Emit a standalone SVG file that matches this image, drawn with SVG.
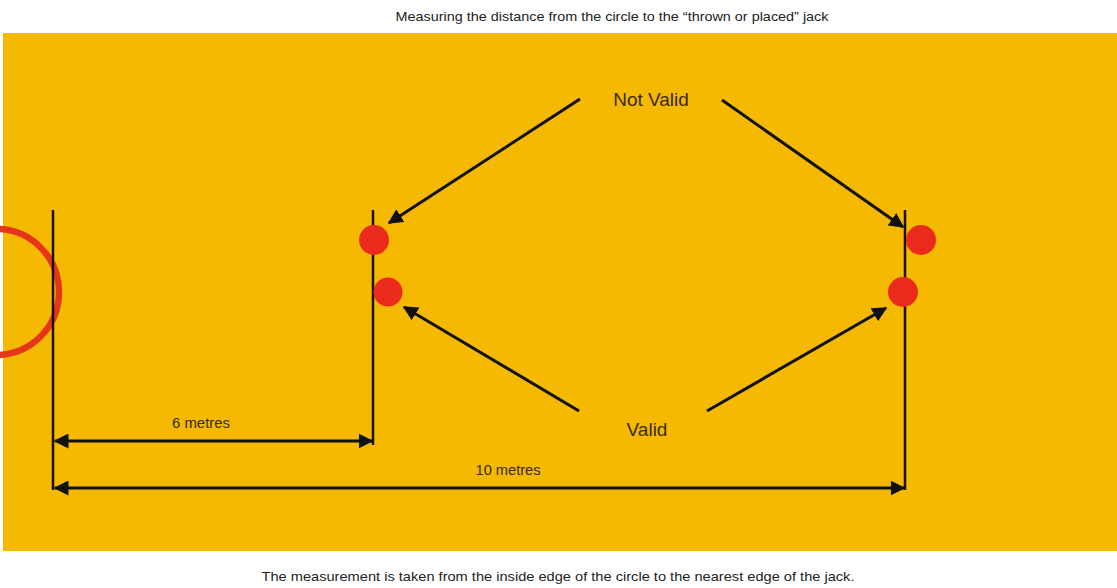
<svg xmlns="http://www.w3.org/2000/svg" width="1117" height="588" viewBox="0 0 1117 588">
<style>
.lbl{font-family:"Liberation Sans",Arial,sans-serif;fill:#3a2a0c;text-anchor:middle}
.cap{font-family:"Liberation Sans",Arial,sans-serif;fill:#222;font-size:13.5px;text-anchor:middle}
.post{stroke:#1a1208;stroke-width:2.5;fill:none}
.arr{stroke:#111;stroke-width:3;fill:none;marker-end:url(#ah)}
.dim{stroke:#111;stroke-width:3;fill:none;marker-start:url(#ahs);marker-end:url(#ah)}
.jack{fill:#EA2A1B}
</style>
<defs>
<marker id="ah" viewBox="0 0 10 10" refX="9" refY="5" markerWidth="5" markerHeight="5" orient="auto" markerUnits="strokeWidth">
<path d="M0,0 L10,5 L0,10 z" fill="#111"/>
</marker>
<marker id="ahs" viewBox="0 0 10 10" refX="1" refY="5" markerWidth="5" markerHeight="5" orient="auto" markerUnits="strokeWidth">
<path d="M10,0 L0,5 L10,10 z" fill="#111"/>
</marker>
</defs>
<rect x="0" y="0" width="1117" height="588" fill="#ffffff"/>
<rect x="3" y="33" width="1114" height="518" fill="#F5B902"/>
<text class="cap" x="612" y="21" textLength="433" lengthAdjust="spacingAndGlyphs">Measuring the distance from the circle to the “thrown or placed” jack</text>
<text class="cap" x="558" y="581" textLength="593" lengthAdjust="spacingAndGlyphs">The measurement is taken from the inside edge of the circle to the nearest edge of the jack.</text>
<g id="circle">
<circle cx="-4" cy="292" r="63" fill="none" stroke="#E5361C" stroke-width="6.5"/>
</g>
<g id="line-start"><line class="post" x1="53" y1="210" x2="53" y2="490"/></g>
<g id="line-6m"><line class="post" x1="373" y1="210" x2="373" y2="445"/></g>
<g id="line-10m"><line class="post" x1="905" y1="210" x2="905" y2="490"/></g>
<g id="jack-6m-notvalid"><circle class="jack" cx="374" cy="240" r="15"/></g>
<g id="jack-6m-valid"><circle class="jack" cx="388" cy="292" r="14.5"/></g>
<g id="jack-10m-notvalid"><circle class="jack" cx="921" cy="240" r="15"/></g>
<g id="jack-10m-valid"><circle class="jack" cx="903" cy="292" r="15"/></g>
<g id="label-notvalid"><text class="lbl" x="651" y="106" font-size="19">Not Valid</text></g>
<g id="label-valid"><text class="lbl" x="647" y="436" font-size="19">Valid</text></g>
<g id="label-6m"><text class="lbl" x="201" y="428" font-size="14" textLength="58" lengthAdjust="spacingAndGlyphs">6 metres</text></g>
<g id="label-10m"><text class="lbl" x="508" y="475" font-size="14" textLength="65" lengthAdjust="spacingAndGlyphs">10 metres</text></g>
<g id="connectors">
<line class="arr" x1="580" y1="99" x2="389" y2="223"/>
<line class="arr" x1="722" y1="100" x2="903" y2="227"/>
<line class="arr" x1="579" y1="411" x2="404" y2="307"/>
<line class="arr" x1="707" y1="411" x2="886" y2="308"/>
<line class="dim" x1="55" y1="441" x2="372" y2="441"/>
<line class="dim" x1="55" y1="488" x2="904" y2="488"/>
</g>
</svg>
